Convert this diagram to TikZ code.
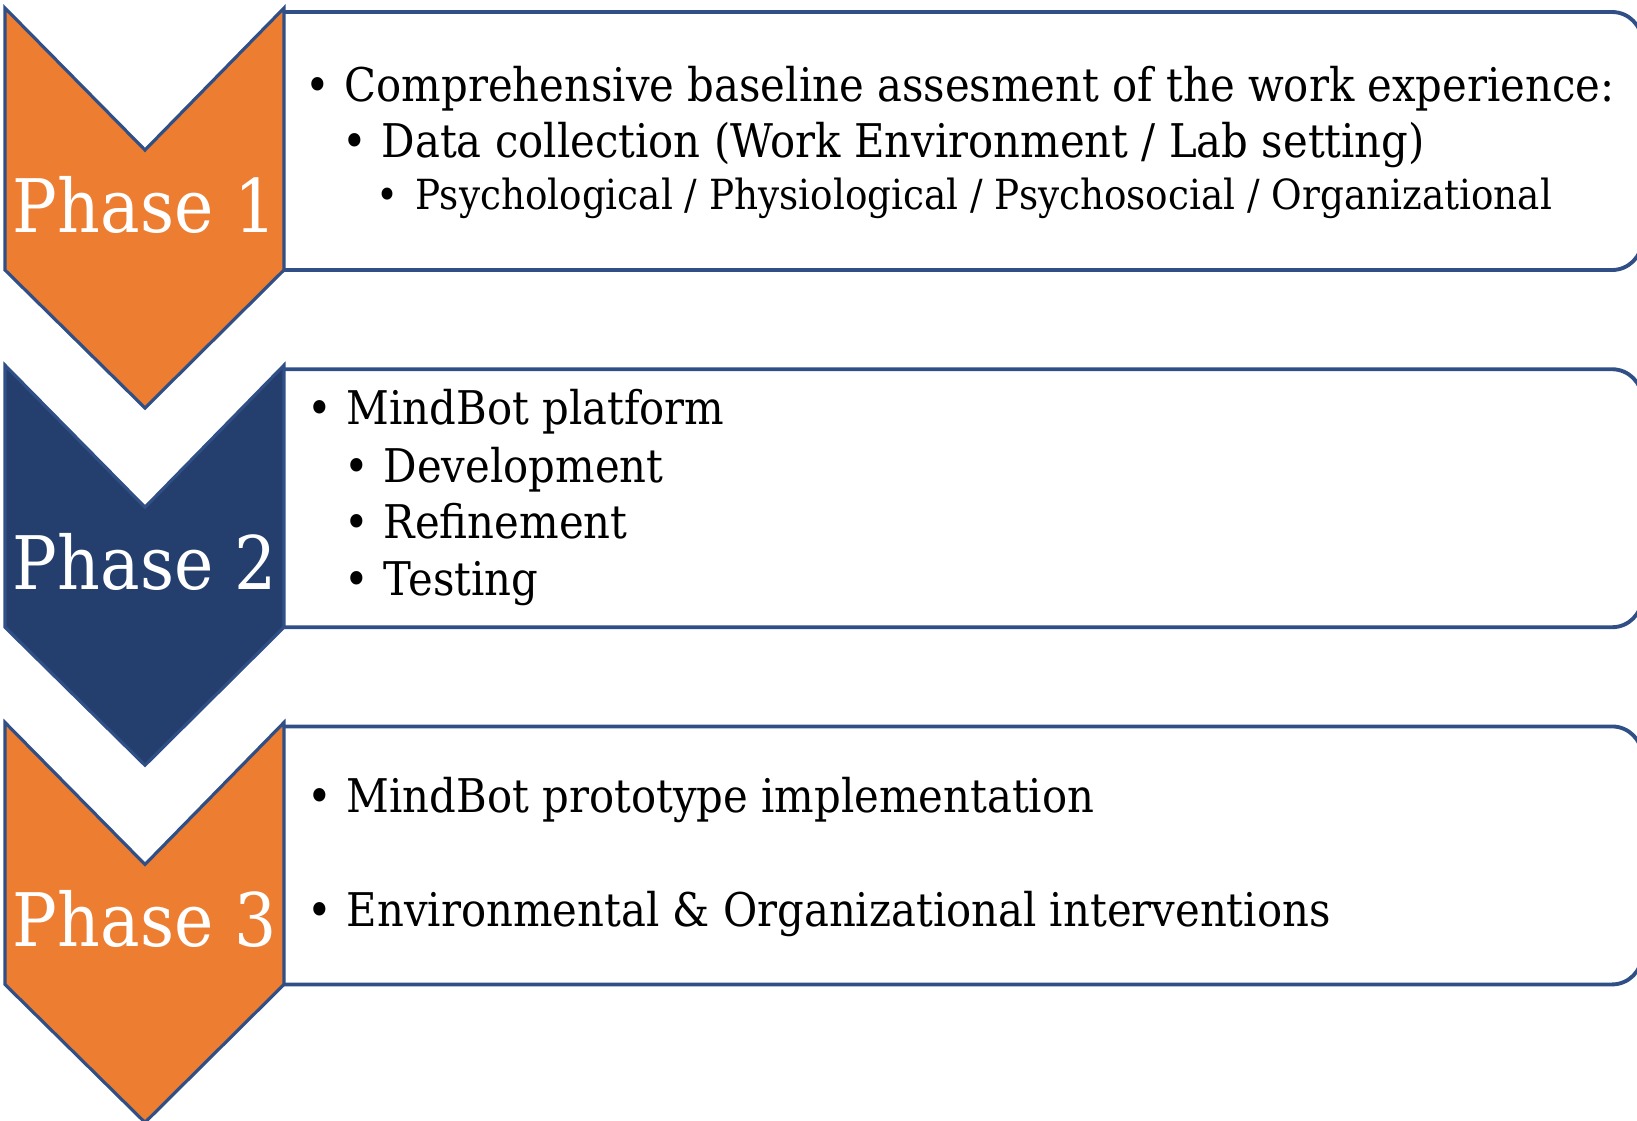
\documentclass[tikz,border=0pt]{standalone}
\usepackage{fontspec}
\setmainfont{DejaVu Serif}[FakeStretch=0.9]
\usepackage{tikz}

\definecolor{phaseorange}{HTML}{ED7D31}
\definecolor{phasenavy}{HTML}{243F6E}
\definecolor{edgeblue}{HTML}{2F4F86}
\newcommand{\bul}{\makebox[0.39cm][l]{\textbullet}}

\begin{document}
\begin{tikzpicture}[x=0.01cm, y=-0.01cm,
        chevron/.style={draw=edgeblue, line width=0.9pt, line join=miter},
        listbox/.style={draw=edgeblue, line width=1.1pt, rounded corners=0.3cm},
        phaselabel/.style={anchor=base, inner sep=0pt, text=white, font=\fontsize{21}{25}\selectfont},
        itemtext/.style={anchor=base west, inner sep=0pt, font=\fontsize{13.2}{16}\selectfont},
        subtext/.style={itemtext, font=\fontsize{11.8}{14}\selectfont}]
    \useasboundingbox (0,0) rectangle (1637,1120);
    \foreach \k/\col/\lbl in {0/phaseorange/1, 1/phasenavy/2, 2/phaseorange/3} {
        \begin{scope}[yshift={-\k*3.57cm}]
            \draw[listbox] (284,12) -- (1642,12) -- (1642,270) -- (284,270);
            \filldraw[chevron, fill=\col] (5,8) -- (145,150) -- (284,8) -- (284,270)
                -- (145,408) -- (5,270) -- cycle;
            \node[phaselabel] (phase\lbl) at (145,232) {Phase \lbl};
        \end{scope}
    }
    % phase 1
    \node[itemtext] (baseline) at (305,101) {\bul Comprehensive baseline assesment of the work experience:};
    \node[itemtext] (datacoll) at (342,157) {\bul Data collection (Work Environment / Lab setting)};
    \node[subtext] (domains) at (376,209) {\bul Psychological / Physiological / Psychosocial / Organizational};
    % phase 2
    \node[itemtext] (platform) at (307,424) {\bul MindBot platform};
    \node[itemtext] (develop) at (344,482) {\bul Development};
    \node[itemtext] (refine) at (344,538) {\bul Refinement};
    \node[itemtext] (testing) at (344,595) {\bul Testing};
    % phase 3
    \node[itemtext] (proto) at (307,812) {\bul MindBot prototype implementation};
    \node[itemtext] (interv) at (307,926) {\bul Environmental \& Organizational interventions};
\end{tikzpicture}
\end{document}
